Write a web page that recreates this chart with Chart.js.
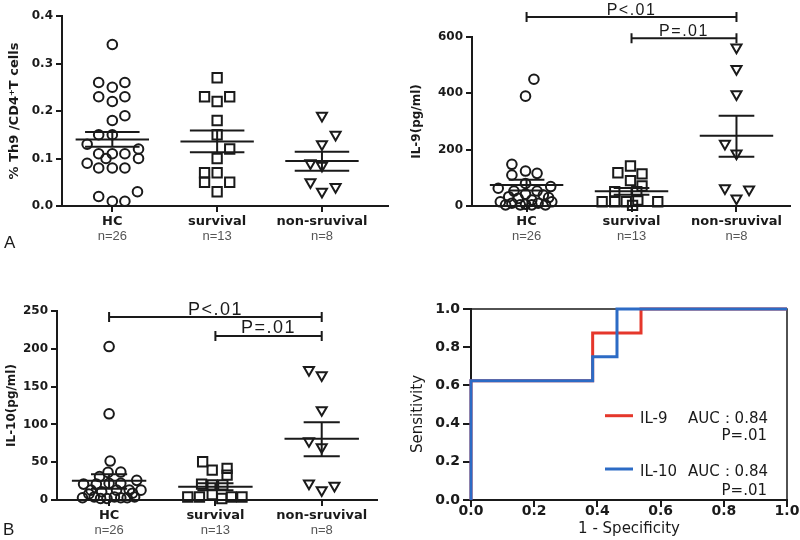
<!DOCTYPE html>
<html><head><meta charset="utf-8">
<script src="https://cdn.jsdelivr.net/npm/chart.js@4/dist/chart.umd.min.js"></script>
<style>
html,body{margin:0;padding:0;background:#fff}
body{width:800px;height:540px;position:relative;overflow:hidden}
.p{position:absolute;width:400px;height:270px}
</style></head><body>
<div class="p" style="left:0;top:0"><canvas id="cA" width="400" height="270"></canvas></div>
<div class="p" style="left:400px;top:0"><canvas id="cB" width="400" height="270"></canvas></div>
<div class="p" style="left:0;top:270px"><canvas id="cC" width="400" height="270"></canvas></div>
<div class="p" style="left:400px;top:270px"><canvas id="cD" width="400" height="270"></canvas></div>
<script>
// ---------- data ----------
const groups = ['HC', 'survival', 'non-sruvival'];
const groupN = ['n=26', 'n=13', 'n=8'];

// Panel A: % Th9 / CD4+ T cells
const th9HC = [0.34,0.26,0.26,0.25,0.23,0.23,0.22,0.18,0.19,0.15,0.15,0.13,0.11,0.11,0.11,0.12,0.10,0.10,0.09,0.08,0.08,0.08,0.02,0.01,0.01,0.03];
const th9HCJitter = [0,-0.13,0.12,0,-0.13,0.12,0,0,0.12,-0.13,0,-0.24,-0.13,0,0.12,0.25,-0.06,0.25,-0.24,-0.13,0,0.12,-0.13,0,0.12,0.24];
const th9Surv = [0.27,0.23,0.23,0.22,0.18,0.15,0.12,0.10,0.07,0.07,0.05,0.05,0.03];
const th9SurvJitter = [0,-0.12,0.12,0,0,0,0.12,0,-0.12,0,-0.12,0.12,0];
const th9Non = [0.19,0.15,0.13,0.09,0.085,0.05,0.04,0.03];
const th9NonJitter = [0,0.13,0,-0.11,0,-0.11,0.13,0];
const th9Mean = [0.140,0.136,0.095];
const th9SemHi = [0.156,0.159,0.114];
const th9SemLo = [0.125,0.113,0.074];

// Panel A (right): IL-9 (pg/ml)
const il9HC = [450,390,148,110,124,116,80,63,69,53,53,33,42,39,27,21,15,15,10,6,10,4,4,4,4,30];
const il9HCJitter = [0.07,-0.01,-0.14,-0.14,-0.01,0.1,-0.01,-0.27,0.23,-0.12,0.1,-0.17,-0.01,0.16,-0.08,0.05,-0.25,0.24,-0.14,-0.01,0.11,0.18,-0.2,-0.06,0.05,0.21];
const il9Surv = [142,118,114,90,71,51,51,15,15,15,21,15,2];
const il9SurvJitter = [-0.01,-0.13,0.1,-0.01,0.1,-0.16,0.05,-0.28,-0.16,-0.05,0.06,0.25,0.01];
const il9Non = [563,487,397,221,187,63,59,27];
const il9NonJitter = [0,0,0,-0.11,0,-0.11,0.12,0];
const il9Mean = [75,52,249];
const il9SemHi = [93,64,320];
const il9SemLo = [55,40,175];
const il9BracketLevels = [671,596];

// Panel B (left): IL-10 (pg/ml)
const il10HC = [203,114,51.5,36.5,37,31,21,21,22,22,26,13,13,13,13,11,3,4,2,3,4,2,4,3,8,9];
const il10HCJitter = [0,0,0.01,-0.01,0.11,-0.09,-0.24,-0.12,0,0.11,0.26,0.3,-0.17,0.07,0.19,-0.07,-0.25,-0.14,-0.02,0.11,0.24,-0.08,0.05,0.17,-0.19,0.22];
const il10Surv = [50.6,39.6,41.8,33,21,20,20,4,4,7,2,4,4];
const il10SurvJitter = [-0.12,-0.03,0.11,0.11,-0.13,-0.03,0.07,-0.26,-0.15,-0.03,0.06,0.15,0.25];
const il10Non = [172,165,119,78,70,22,19,13];
const il10NonJitter = [-0.12,0,0,-0.12,0,-0.12,0.12,0];
const il10Mean = [25.5,17.6,81];
const il10SemHi = [34,22,103];
const il10SemLo = [15,13,58];
const il10BracketLevels = [242,217];

// brackets: group pairs and labels
const bracketPairs = [[0,2],[1,2]];
const bracketLabels = ['P<.01','P=.01'];

// Panel B (right): ROC
const rocIL9Fpr = [0,0,0.385,0.385,0.538,0.538,1];
const rocIL9Tpr = [0,0.625,0.625,0.875,0.875,1,1];
const rocIL10Fpr = [0,0,0.385,0.385,0.462,0.462,1];
const rocIL10Tpr = [0,0.625,0.625,0.75,0.75,1,1];
const rocNames = ['IL-9','IL-10'];
const rocAuc = ['AUC\uFF1A0.84','AUC\uFF1A0.84'];
const rocP = ['P=.01','P=.01'];

// ---------- styling / helpers ----------
const INK = '#1a1a1a';
const RED = '#e5372b';
const BLUE = '#2c6bc5';
const FONT = '"DejaVu Sans", Verdana, sans-serif';
const FONT2 = '"Liberation Sans", Arial, sans-serif';
Chart.defaults.font.family = FONT;
Chart.defaults.color = INK;
Chart.defaults.animation = false;
Chart.defaults.plugins.legend.display = false;
Chart.defaults.plugins.tooltip.enabled = false;

function pts(vals, jit, idx){ return vals.map((v,k)=>({x: idx + jit[k], y: v})); }
function pointSet(data, style, r, rot){
  return {data, showLine:false, clip:false, pointStyle:style, pointRadius:r, pointHoverRadius:r,
    pointBorderColor:INK, pointBackgroundColor:'rgba(0,0,0,0)', pointBorderWidth:2, pointRotation:rot||0};
}
function summary(means, hi, lo, mh, ch){
  const d=[];
  means.forEach((m,i)=>{
    d.push({x:i-mh,y:m},{x:i+mh,y:m},{x:i,y:null});
    d.push({x:i-ch,y:hi[i]},{x:i+ch,y:hi[i]},{x:i,y:null});
    d.push({x:i-ch,y:lo[i]},{x:i+ch,y:lo[i]},{x:i,y:null});
    d.push({x:i,y:hi[i]},{x:i,y:lo[i]},{x:i,y:null});
  });
  return {data:d, showLine:true, spanGaps:false, clip:false, borderColor:INK, borderWidth:2, pointRadius:0, borderCapStyle:'butt'};
}

const annot = {
  id:'annot',
  afterDraw(chart, args, o){
    const ctx = chart.ctx, x = chart.scales.x, y = chart.scales.y;
    ctx.save();
    if (o.nLabels){
      ctx.font = '13px ' + FONT2; ctx.fillStyle = '#555'; ctx.textAlign='center'; ctx.textBaseline='middle';
      o.nLabels.forEach((t,i)=>ctx.fillText(t, x.getPixelForValue(i), chart.chartArea.bottom + 30));
    }
    if (o.brackets){
      ctx.strokeStyle = INK; ctx.lineWidth = 2; ctx.fillStyle = INK;
      o.brackets.forEach(b=>{
        const x1 = x.getPixelForValue(b.from), x2 = x.getPixelForValue(b.to), yy = y.getPixelForValue(b.level);
        ctx.beginPath();
        ctx.moveTo(x1,yy); ctx.lineTo(x2,yy);
        ctx.moveTo(x1,yy-5); ctx.lineTo(x1,yy+5);
        ctx.moveTo(x2,yy-5); ctx.lineTo(x2,yy+5);
        ctx.stroke();
        ctx.font = o.pFont + 'px ' + FONT2; ctx.textAlign='center'; ctx.textBaseline='alphabetic';
        if ('letterSpacing' in ctx) ctx.letterSpacing = '1.5px';
        ctx.fillText(b.text, (x1+x2)/2, yy - 2.5);
        if ('letterSpacing' in ctx) ctx.letterSpacing = '0px';
      });
    }
    if (o.letter){
      ctx.font = '17px ' + FONT2; ctx.fillStyle = INK; ctx.textAlign='left'; ctx.textBaseline='middle';
      ctx.fillText(o.letter[0], o.letter[1], o.letter[2]);
    }
    ctx.restore();
  }
};

function dotPlot(id, c){
  const datasets = [
    summary(c.mean, c.hi, c.lo, 0.35, c.cap),
    pointSet(pts(c.sets[0], c.jit[0], 0), 'circle', 4.8, 0),
    pointSet(pts(c.sets[1], c.jit[1], 1), 'rect', 6.6, 0),
    pointSet(pts(c.sets[2], c.jit[2], 2), 'triangle', 5.8, 180)
  ];
  const grid = {drawOnChartArea:false, color:INK, lineWidth:2, tickLength:6};
  return new Chart(document.getElementById(id), {
    type:'scatter',
    data:{datasets},
    plugins:[annot],
    options:{
      responsive:false,
      layout:{padding:{left:0, top:c.T, right:c.R, bottom:0}},
      scales:{
        x:{type:'linear', min:c.xMin, max:c.xMax,
           afterBuildTicks:s=>{ s.ticks = [0,1,2].map(v=>({value:v})); },
           afterFit:s=>{ s.height = c.XH; },
           ticks:{callback:v=>groups[v], font:{size:13, weight:'bold'}, color:INK, padding:2, maxRotation:0, autoSkip:false},
           grid, border:{color:INK, width:2}},
        y:{type:'linear', min:c.yMin, max:c.yMax,
           afterFit:s=>{ s.width = c.L; },
           ticks:{stepSize:c.step, callback:c.fmt, font:{size:12, weight:'bold'}, color:INK, padding:3},
           grid, border:{color:INK, width:2},
           title:{display:true, text:c.title, font:{size:c.ts, weight:'bold'}, color:INK, padding:{top:c.tp, bottom:0}}}
      },
      plugins:{annot:{nLabels:groupN, brackets:c.brackets, letter:c.letter, pFont:c.pFont}}
    }
  });
}

dotPlot('cA', {
  sets:[th9HC, th9Surv, th9Non], jit:[th9HCJitter, th9SurvJitter, th9NonJitter],
  mean:th9Mean, hi:th9SemHi, lo:th9SemLo, cap:0.26,
  yMin:0, yMax:0.4, step:0.1, fmt:v=>v.toFixed(1),
  xMin:-0.48, xMax:2.63, L:62, T:16, R:12, XH:64, tp:7, ts:13,
  title:'% Th9 /CD4\u207AT cells', letter:['A',4,243]
});

dotPlot('cB', {
  sets:[il9HC, il9Surv, il9Non], jit:[il9HCJitter, il9SurvJitter, il9NonJitter],
  mean:il9Mean, hi:il9SemHi, lo:il9SemLo, cap:0.17,
  yMin:0, yMax:600, step:200, fmt:v=>String(v),
  xMin:-0.52, xMax:2.51, L:72, T:37, R:10, XH:64, tp:10, ts:12,
  title:'IL-9(pg/ml)', pFont:16,
  brackets: bracketPairs.map((p,i)=>({from:p[0], to:p[1], level:il9BracketLevels[i], text:bracketLabels[i]}))
});

dotPlot('cC', {
  sets:[il10HC, il10Surv, il10Non], jit:[il10HCJitter, il10SurvJitter, il10NonJitter],
  mean:il10Mean, hi:il10SemHi, lo:il10SemLo, cap:0.17,
  yMin:0, yMax:250, step:50, fmt:v=>String(v),
  xMin:-0.49, xMax:2.52, L:57, T:41, R:23, XH:40, tp:5, ts:12,
  title:'IL-10(pg/ml)', pFont:18, letter:['B',3,260],
  brackets: bracketPairs.map((p,i)=>({from:p[0], to:p[1], level:il10BracketLevels[i], text:bracketLabels[i]}))
});

// ROC
const rocDecor = {
  id:'rocDecor',
  beforeDatasetsDraw(chart){
    const {ctx, chartArea:a} = chart;
    ctx.save(); ctx.strokeStyle = INK; ctx.lineWidth = 1.5;
    ctx.beginPath(); ctx.moveTo(a.left, a.top); ctx.lineTo(a.right, a.top); ctx.lineTo(a.right, a.bottom); ctx.stroke();
    ctx.restore();
  },
  afterDraw(chart){
    const {ctx} = chart;
    ctx.save();
    const rows = [[RED, 145.7, 152.7, 170],[BLUE, 199, 206, 225]];
    rows.forEach((r,i)=>{
      ctx.strokeStyle = r[0]; ctx.lineWidth = 3;
      ctx.beginPath(); ctx.moveTo(205, r[1]); ctx.lineTo(233, r[1]); ctx.stroke();
      ctx.fillStyle = INK; ctx.font = '15px ' + FONT; ctx.textBaseline = 'alphabetic';
      ctx.textAlign = 'left'; ctx.fillText(rocNames[i], 240, r[2]);
      ctx.textAlign = 'right'; ctx.fillText(rocAuc[i], 368, r[2]);
      ctx.fillText(rocP[i], 367, r[3]);
    });
    ctx.translate(18, 144); ctx.rotate(-Math.PI/2);
    ctx.textAlign = 'center'; ctx.textBaseline = 'middle'; ctx.font = '15px ' + FONT;
    ctx.fillText('Sensitivity', 0, 0);
    ctx.restore();
  }
};
new Chart(document.getElementById('cD'), {
  type:'scatter',
  data:{datasets:[
    {data: rocIL10Fpr.map((x,i)=>({x, y:rocIL10Tpr[i]})), showLine:true, borderColor:BLUE, borderWidth:3, pointRadius:0, clip:false, order:1, borderJoinStyle:'miter'},
    {data: rocIL9Fpr.map((x,i)=>({x, y:rocIL9Tpr[i]})), showLine:true, borderColor:RED, borderWidth:3, pointRadius:0, clip:false, order:2, borderJoinStyle:'miter'}
  ]},
  plugins:[rocDecor],
  options:{
    responsive:false,
    layout:{padding:{left:0, top:39, right:13, bottom:0}},
    scales:{
      x:{type:'linear', min:0, max:1,
         afterFit:s=>{ s.height = 40; },
         ticks:{stepSize:0.2, callback:v=>v.toFixed(1), font:{size:14, weight:'bold'}, color:INK, padding:-4, maxRotation:0},
         grid:{drawOnChartArea:false, color:INK, lineWidth:2, tickLength:7}, border:{color:INK, width:2},
         title:{display:true, text:'1 - Specificity', font:{size:15}, color:INK, padding:{top:0, bottom:2}}},
      y:{type:'linear', min:0, max:1,
         afterFit:s=>{ s.width = 71; },
         ticks:{stepSize:0.2, callback:v=>v.toFixed(1), font:{size:14, weight:'bold'}, color:INK, padding:3},
         grid:{drawOnChartArea:false, color:INK, lineWidth:2, tickLength:8}, border:{color:INK, width:2}}
    }
  }
});
</script>
</body></html>
